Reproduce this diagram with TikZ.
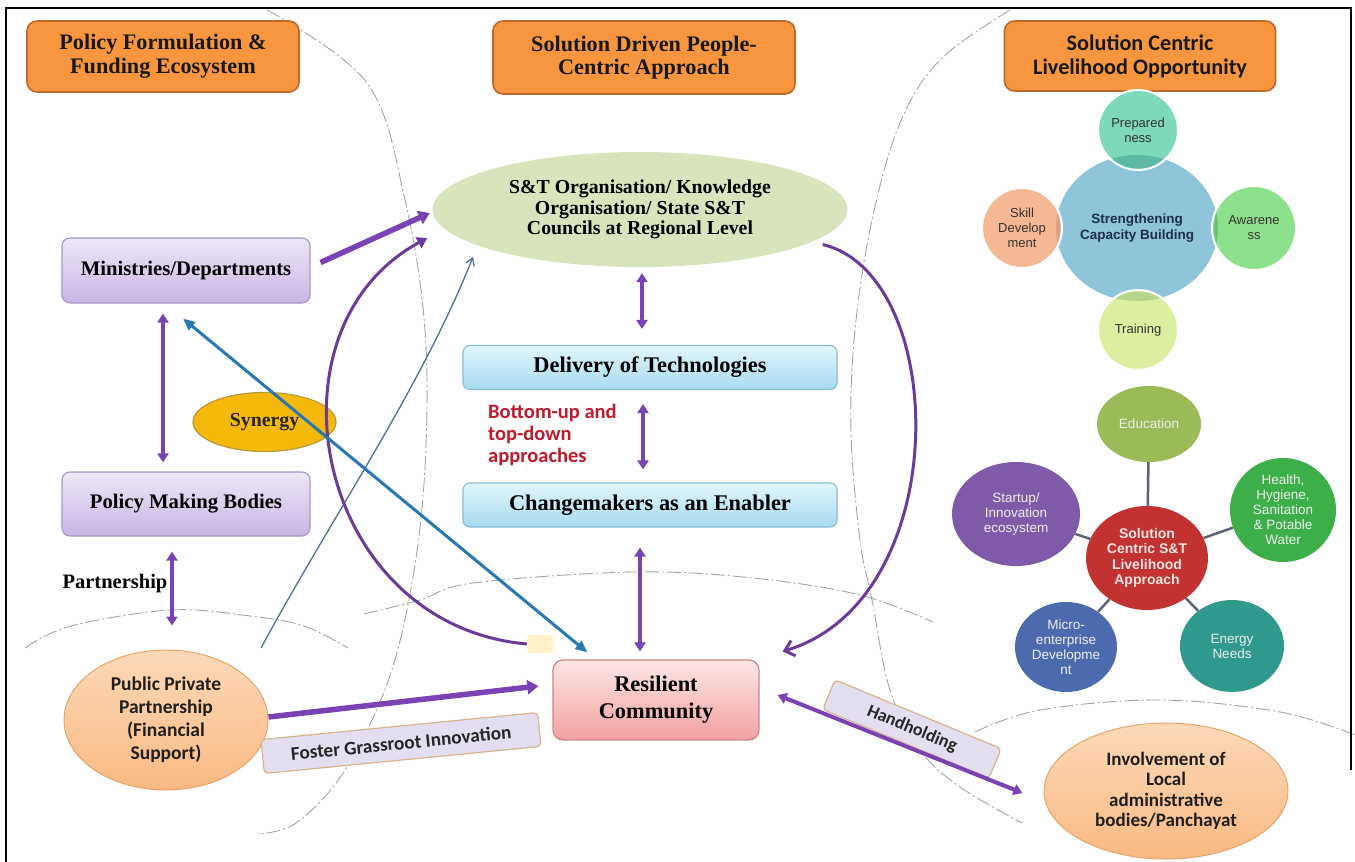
\documentclass[tikz,border=0pt]{standalone}
\usepackage{fontspec}
\setmainfont{Liberation Serif}
\newfontfamily\carl{Carlito}
\newfontfamily\arl{Liberation Sans}
\usetikzlibrary{arrows.meta,shapes.geometric,calc}

\definecolor{hdfill}{HTML}{F7963F}
\definecolor{hdline}{HTML}{C2682D}
\definecolor{lavtop}{HTML}{EEE7F8}
\definecolor{lavbot}{HTML}{C8B5E4}
\definecolor{lavline}{HTML}{A797C6}
\definecolor{cyantop}{HTML}{E2F6FC}
\definecolor{cyanbot}{HTML}{A6DBEF}
\definecolor{cyanline}{HTML}{86BCD4}
\definecolor{pinktop}{HTML}{FDE6E6}
\definecolor{pinkbot}{HTML}{F2A0A0}
\definecolor{pinkline}{HTML}{C58A8A}
\definecolor{orgfill}{HTML}{D8E4BC}
\definecolor{synfill}{HTML}{F5B90C}
\definecolor{synline}{HTML}{B99A3A}
\definecolor{peachtop}{HTML}{FDD9B8}
\definecolor{peachbot}{HTML}{F9B982}
\definecolor{peachline}{HTML}{E6A56C}
\definecolor{tagfill}{HTML}{E4DFF0}
\definecolor{tagline}{HTML}{D8B48E}
\definecolor{paleY}{HTML}{FFF2C6}
\definecolor{arrP}{HTML}{7A42B4}
\definecolor{arrPd}{HTML}{6A3A9C}
\definecolor{arrB}{HTML}{2678B4}
\definecolor{arrBt}{HTML}{4C709C}
\definecolor{guide}{HTML}{A0A4A8}
\definecolor{approach}{HTML}{C0182C}
% capacity building cluster
\definecolor{cbblue}{HTML}{8EC5DB}
\definecolor{cbnavy}{HTML}{1F2D4D}
\definecolor{prepC}{HTML}{7DD9B9}
\definecolor{prepD}{HTML}{5DB9A4}
\definecolor{skillC}{HTML}{F6B894}
\definecolor{skillD}{HTML}{D8A584}
\definecolor{awarC}{HTML}{8DE08C}
\definecolor{awarD}{HTML}{6CC07A}
\definecolor{trainC}{HTML}{DCEFA0}
\definecolor{trainD}{HTML}{B5D58A}
% livelihood cluster
\definecolor{redC}{HTML}{C23230}
\definecolor{eduC}{HTML}{9BBB59}
\definecolor{startC}{HTML}{7F5AA8}
\definecolor{healthC}{HTML}{3DAF48}
\definecolor{microC}{HTML}{4C6BAF}
\definecolor{energyC}{HTML}{2F998D}
\definecolor{spokeC}{HTML}{5A6472}
\definecolor{lightT}{HTML}{EDEDED}
\definecolor{pinkT}{HTML}{FCE4E4}

\tikzset{
  hdbox/.style={draw=hdline, line width=1.6pt, fill=hdfill, rounded corners=10pt,
    align=center, inner sep=0pt, text=black!90},
  lavbox/.style={draw=lavline, line width=1.1pt, top color=lavtop, bottom color=lavbot,
    rounded corners=8pt, inner sep=0pt, font=\bfseries\fontsize{20.7}{22}\selectfont},
  cyanbox/.style={draw=cyanline, line width=1.1pt, top color=cyantop, bottom color=cyanbot,
    rounded corners=7pt, inner sep=0pt, minimum width=374pt, minimum height=44pt,
    font=\bfseries\fontsize{22.4}{24}\selectfont},
  pinkbox/.style={draw=pinkline, line width=1.2pt, top color=pinktop, bottom color=pinkbot,
    rounded corners=10pt, inner sep=0pt, align=center},
  peachoval/.style={ellipse, draw=peachline, line width=1pt, top color=peachtop,
    bottom color=peachbot, inner sep=0pt, align=center, text=black!88},
  tagbox/.style={draw=tagline, line width=1.2pt, fill=tagfill, rounded corners=4pt,
    inner sep=0pt, text=black!85},
  guideline/.style={draw=guide, line width=0.9pt, dash pattern=on 14pt off 3pt on 2pt off 3pt},
  bigarrow/.style={draw=arrP, line width=5.5pt, -{Triangle[length=11pt,width=14pt]}},
  twoway/.style={draw=arrP, line width=4pt,
    {Triangle[length=9pt,width=11pt]}-{Triangle[length=9pt,width=11pt]}},
  blueway/.style={draw=arrB, line width=3pt,
    {Triangle[length=12pt,width=10pt]}-{Triangle[length=12pt,width=10pt]}},
  thinblue/.style={draw=arrBt, line width=1.3pt, -{Straight Barb[length=7pt,width=9pt]}},
  curveP/.style={draw=arrPd, line width=3pt, -{Triangle[length=10pt,width=12pt]}},
  curveB/.style={draw=arrPd, line width=3pt, -{Straight Barb[length=9pt,width=16pt]}},
  sat/.style={circle, draw=white, line width=2pt, inner sep=0pt, align=center,
    font=\arl\fontsize{13}{15}\selectfont, text=black!80},
  lc/.style={ellipse, inner sep=0pt, align=center, text=lightT,
    font=\arl\fontsize{13.5}{15}\selectfont},
  spoke/.style={draw=spokeC, line width=2.5pt}
}

\begin{document}
\begin{tikzpicture}[x=1pt,y=-1pt]
\useasboundingbox (0,0) rectangle (1355,862);
\fill[white] (0,0) rectangle (1355,862);

% dash-dot zone outlines
\draw[guideline] plot[smooth, tension=0.6] coordinates {(267,10) (367,83) (405,200) (425,330)
  (425,467) (412,583) (387,684) (343,773) (296,823) (257,834)};
\draw[guideline] plot[smooth, tension=0.6] coordinates {(1010,10) (940,60) (900,123) (872,220)
  (855,330) (851,433) (860,540) (872,600) (890,690) (920,750) (960,787) (1022,823)};
\draw[guideline] plot[smooth, tension=0.6] coordinates {(25,648) (71,626) (171,610) (250,616)
  (304,626) (348,648)};
\draw[guideline] plot[smooth, tension=0.6] coordinates {(364,614) (420,600) (473,583) (633,572)
  (753,578) (860,595) (933,622)};
\draw[guideline] plot[smooth, tension=0.6] coordinates {(975,732) (1040,710) (1160,700)
  (1280,712) (1355,735)};

% frame
\draw[line width=2.6pt, black] (6,862) -- (6,8) -- (1351,8) -- (1351,770);

% column headings
\node[hdbox, minimum width=272pt, minimum height=71pt,
  font=\bfseries\fontsize{22.2}{24}\selectfont] (hdA) at (163,56.5)
  {Policy Formulation \&\\Funding Ecosystem};
\node[hdbox, minimum width=302pt, minimum height=73pt,
  font=\bfseries\fontsize{22.2}{23}\selectfont] (hdB) at (644,57.5)
  {Solution Driven People-\\Centric Approach};
\node[hdbox, minimum width=271pt, minimum height=70pt,
  font=\carl\bfseries\fontsize{22.2}{24}\selectfont] (hdC) at (1140,56)
  {Solution Centric\\Livelihood Opportunity};

% centre column
\node[ellipse, fill=orgfill, minimum width=415pt, minimum height=115pt, inner sep=0pt,
  align=center, font=\bfseries\fontsize{19.8}{20.5}\selectfont] (stOrg) at (640,209.5)
  {S\&T Organisation/ Knowledge\\Organisation/ State S\&T\\Councils at Regional Level};
\node[cyanbox] (deliv) at (650,367.5) {Delivery of Technologies};
\node[cyanbox] (chg) at (650,505) {Changemakers as an Enabler};
\node[anchor=west, align=left, text=approach, inner sep=0pt,
  font=\carl\bfseries\fontsize{20.5}{22}\selectfont] (bua) at (488,435)
  {Bottom-up and\\top-down\\approaches};
\node[pinkbox, minimum width=206pt, minimum height=80pt,
  font=\bfseries\fontsize{22.4}{27}\selectfont] (resil) at (656,700) {Resilient\\Community};
\node[fill=paleY, minimum width=26pt, minimum height=18pt, inner sep=0pt] (sq) at (540,644) {};

% left column
\node[lavbox, minimum width=248pt, minimum height=65pt] (mins) at (186,270.5) {Ministries/Departments};
\node[lavbox, minimum width=248pt, minimum height=64pt] (pmb) at (186,504) {Policy Making Bodies};
\node[ellipse, draw=synline, line width=1.2pt, fill=synfill, minimum width=143pt,
  minimum height=59pt, inner sep=0pt, font=\bfseries\fontsize{19.8}{20}\selectfont,
  text=black!85] (syn) at (264.5,422) {Synergy};
\node[inner sep=0pt, font=\bfseries\fontsize{20.5}{21}\selectfont] (ptn) at (115,584) {Partnership};
\node[peachoval, minimum width=204pt, minimum height=140pt,
  font=\carl\bfseries\fontsize{19.5}{23}\selectfont] (ppp) at (166,720)
  {Public Private\\Partnership\\(Financial\\Support)};
\node[tagbox, minimum width=278pt, minimum height=34pt, rotate=5.6,
  font=\carl\bfseries\fontsize{19.2}{20}\selectfont] (fgi) at (401,743)
  {Foster Grassroot Innovation};

% right bottom
\node[tagbox, minimum width=180pt, minimum height=32pt, rotate=-22.5,
  font=\carl\bfseries\fontsize{18}{20}\selectfont] (hh) at (912,729) {Handholding};
\node[peachoval, minimum width=244pt, minimum height=136pt,
  font=\carl\bfseries\fontsize{19}{20.5}\selectfont] (inv) at (1166,791)
  {Involvement of\\Local\\administrative\\bodies/Panchayat};

% capacity building cluster
\node[ellipse, fill=cbblue, minimum width=162pt, minimum height=146pt, inner sep=0pt,
  align=center, text=cbnavy, font=\arl\bfseries\fontsize{13.5}{16.5}\selectfont] (scb)
  at (1137,228) {Strengthening\\Capacity Building};
\node[sat, fill=prepC, minimum size=80pt] (prep) at (1138,130) {Prepared\\ness};
\node[sat, fill=skillC, minimum size=80pt] (skill) at (1022,228) {Skill\\Develop\\ment};
\node[sat, fill=awarC, minimum size=84pt] (awar) at (1254,228) {Awarene\\ss};
\node[sat, fill=trainC, minimum size=80pt] (train) at (1138,330) {Training};
\begin{scope}
  \clip (1137,228) ellipse [x radius=81, y radius=73];
  \fill[prepD] (1138,130) circle [radius=38.5];
  \fill[skillD] (1022,228) circle [radius=38.5];
  \fill[awarD] (1254,228) circle [radius=40.5];
  \fill[trainD] (1138,330) circle [radius=38.5];
\end{scope}

% livelihood cluster
\node[lc, fill=redC, minimum width=122pt, minimum height=104pt, text=pinkT,
  font=\arl\bfseries\fontsize{14}{15.5}\selectfont] (core) at (1147,558)
  {Solution\\Centric S\&T\\Livelihood\\Approach};
\node[lc, fill=eduC, minimum width=104pt, minimum height=76pt] (edu) at (1149,424) {Education};
\node[lc, fill=startC, minimum width=128pt, minimum height=104pt] (start) at (1016,514)
  {Startup/\\Innovation\\ecosystem};
\node[lc, fill=healthC, minimum width=106pt, minimum height=104pt] (health) at (1283,510)
  {Health,\\Hygiene,\\Sanitation\\\& Potable\\Water};
\node[lc, fill=microC, minimum width=102pt, minimum height=90pt] (micro) at (1066,647)
  {Micro-\\enterprise\\Developme\\nt};
\node[lc, fill=energyC, minimum width=104pt, minimum height=92pt] (energy) at (1232,646)
  {Energy\\Needs};
\foreach \s in {edu,start,health,micro,energy} \draw[spoke] (core) -- (\s);

% connectors
\draw[bigarrow] ($(mins.east)+(10,-8)$) -- ($(stOrg.west)+(-2.5,3.5)$);
\draw[bigarrow] ($(ppp.east)+(0,-3)$) -- ($(resil.west)+(-14,-14)$);
\draw[twoway] ($(mins.south)+(-23,10)$) -- ($(pmb.north)+(-23,-9)$);
\draw[twoway] ($(pmb.south)+(-14,15)$) -- ($(ppp.north)+(6,-24)$);
\draw[twoway] ($(stOrg.south)+(2,6)$) -- ($(deliv.north)+(-8,-16)$);
\draw[twoway] ($(deliv.south)+(-7,14)$) -- ($(chg.north)+(-7,-13)$);
\draw[twoway] ($(chg.south)+(-10,20)$) -- ($(resil.north)+(-16,-8)$);
\draw[twoway] ($(resil.east)+(18,-5)$) -- ($(inv.west)+(-21,2)$);
\draw[thinblue] ($(ppp.center)+(95,-72)$) .. controls (330,520) and (420,390) ..
  ($(stOrg.center)+(-167,47.5)$);
\draw[curveP] (sq.west) .. controls (315,625) and (258,330) .. ($(stOrg.west)+(-5,28.5)$);
\draw[curveB] ($(stOrg.east)+(-25,35)$) .. controls (950,275) and (955,600) ..
  ($(resil.north east)+(23,-8)$);
\draw[blueway] ($(mins.south)+(-3,15)$) -- ($(resil.north west)+(35,-7)$);
\end{tikzpicture}
\end{document}
